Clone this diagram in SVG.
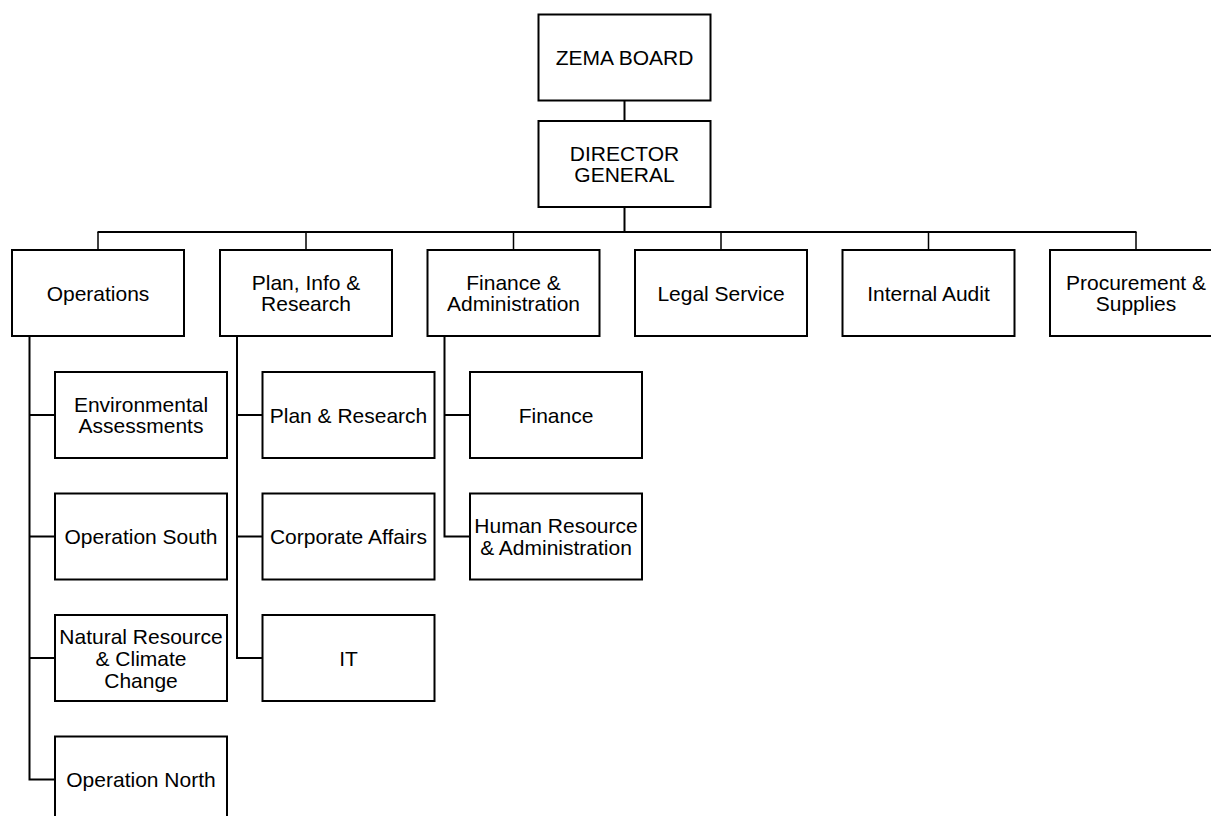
<svg xmlns="http://www.w3.org/2000/svg" width="1211" height="816" viewBox="0 0 1211 816">
<style>
.box{fill:#fff;stroke:#000;stroke-width:2}
.t{font-family:"Liberation Sans",Arial,sans-serif;font-size:21px;fill:#000;text-anchor:middle;dominant-baseline:central}
.c{fill:none;stroke:#000;stroke-width:2}
.d{fill:none;stroke:#000;stroke-width:1.5}
</style>
<rect width="1211" height="816" fill="#fff"/>
<g id="connectors">
<path class="c" d="M624.5 100.5V121M624.5 207V232M97.5 232H1136.5"/>
<path class="d" d="M98 232V250M306 232V250M513.5 232V250M721 232V250M928.5 232V250M1136 232V250"/>
<path class="c" d="M29.5 336V779.5H55M29.5 415H55M29.5 536.5H55M29.5 658H55"/>
<path class="c" d="M237 336V658H262.5M237 415H262.5M237 536.5H262.5"/>
<path class="c" d="M444.5 336V536.5H470M444.5 415H470"/>
</g>
<g id="zema-board"><rect class="box" x="538.5" y="14.5" width="172" height="86"/><text class="t" x="624.5" y="57.5">ZEMA BOARD</text></g>
<g id="director-general"><rect class="box" x="538.5" y="121" width="172" height="86"/><text class="t" x="624.5" y="153.3">DIRECTOR</text><text class="t" x="624.5" y="174.8">GENERAL</text></g>
<g id="operations"><rect class="box" x="12" y="250" width="172" height="86"/><text class="t" x="98" y="293">Operations</text></g>
<g id="plan-info-research"><rect class="box" x="220" y="250" width="172" height="86"/><text class="t" x="306" y="282.3">Plan, Info &amp;</text><text class="t" x="306" y="303.8">Research</text></g>
<g id="finance-administration"><rect class="box" x="427.5" y="250" width="172" height="86"/><text class="t" x="513.5" y="282.3">Finance &amp;</text><text class="t" x="513.5" y="303.8">Administration</text></g>
<g id="legal-service"><rect class="box" x="635" y="250" width="172" height="86"/><text class="t" x="721" y="293">Legal Service</text></g>
<g id="internal-audit"><rect class="box" x="842.5" y="250" width="172" height="86"/><text class="t" x="928.5" y="293">Internal Audit</text></g>
<g id="procurement-supplies"><rect class="box" x="1050" y="250" width="172" height="86"/><text class="t" x="1136" y="282.3">Procurement &amp;</text><text class="t" x="1136" y="303.8">Supplies</text></g>
<g id="environmental-assessments"><rect class="box" x="55" y="372" width="172" height="86"/><text class="t" x="141" y="404.3">Environmental</text><text class="t" x="141" y="425.8">Assessments</text></g>
<g id="operation-south"><rect class="box" x="55" y="493.5" width="172" height="86"/><text class="t" x="141" y="536.5">Operation South</text></g>
<g id="natural-resource"><rect class="box" x="55" y="615" width="172" height="86"/><text class="t" x="141" y="636">Natural Resource</text><text class="t" x="141" y="658">&amp; Climate</text><text class="t" x="141" y="680">Change</text></g>
<g id="operation-north"><rect class="box" x="55" y="736.5" width="172" height="86"/><text class="t" x="141" y="779.5">Operation North</text></g>
<g id="plan-research"><rect class="box" x="262.5" y="372" width="172" height="86"/><text class="t" x="348.5" y="415">Plan &amp; Research</text></g>
<g id="corporate-affairs"><rect class="box" x="262.5" y="493.5" width="172" height="86"/><text class="t" x="348.5" y="536.5">Corporate Affairs</text></g>
<g id="it"><rect class="box" x="262.5" y="615" width="172" height="86"/><text class="t" x="348.5" y="658">IT</text></g>
<g id="finance"><rect class="box" x="470" y="372" width="172" height="86"/><text class="t" x="556" y="415">Finance</text></g>
<g id="human-resource"><rect class="box" x="470" y="493.5" width="172" height="86"/><text class="t" x="556" y="525.8">Human Resource</text><text class="t" x="556" y="547.3">&amp; Administration</text></g>
</svg>
